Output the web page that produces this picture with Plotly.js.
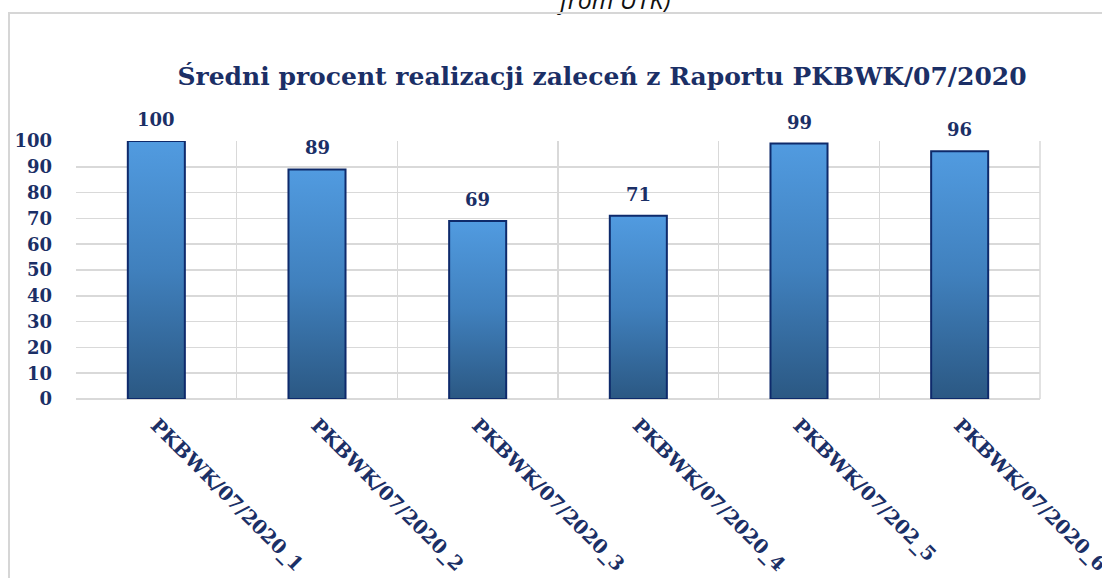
<!DOCTYPE html>
<html><head><meta charset="utf-8">
<script src="https://cdn.plot.ly/plotly-3.0.1.min.js"></script>
<style>html,body{margin:0;padding:0;background:#fff;overflow:hidden}
#frame{position:absolute;left:8px;top:12px;width:1200px;height:700px;border-left:2px solid #d6d6d6;border-top:2px solid #d6d6d6;pointer-events:none}
</style></head>
<body>
<div id="chart" style="width:1102px;height:578px;"></div>
<div id="frame"></div>
<script>
const categories = ["PKBWK/07/2020_1","PKBWK/07/2020_2","PKBWK/07/2020_3","PKBWK/07/2020_4","PKBWK/07/202_5","PKBWK/07/2020_6"];
const values = [100, 89, 69, 71, 99, 96];
const yTicks = [0,10,20,30,40,50,60,70,80,90,100];
const titleText = "Średni procent realizacji zaleceń z Raportu PKBWK/07/2020";
const topText = "from UTK)";

const navy = "#1b2f66";
const serif = "DejaVu Serif, Liberation Serif, serif";

const trace = {
  type: "bar",
  x: categories,
  y: values,
  width: 0.355,
  marker: {color: "#4283c2", line: {color: "#0e2a6b", width: 2}},
  hoverinfo: "none"
};

const valueLabels = categories.map(function(c, i){
  return {x: c, y: values[i], xref: "x", yref: "y", text: "<b>" + values[i] + "</b>", showarrow: false,
          yanchor: "bottom", yshift: 9, font: {family: serif, size: 18, color: navy}};
});

const layout = {
  width: 1102, height: 578,
  margin: {l: 76, r: 62, t: 141, b: 179},
  paper_bgcolor: "#fff", plot_bgcolor: "#fff",
  showlegend: false,
  title: {text: "<b>" + titleText + "</b>", font: {family: serif, size: 25, color: navy},
          x: 0.5463, xanchor: "center", y: 0.868, yanchor: "middle"},
  xaxis: {
    type: "category", tickson: "boundaries", showgrid: true, gridcolor: "#d9d9d9", gridwidth: 1.5,
    tickangle: 45, ticks: "", ticklabelstandoff: 10,
    tickfont: {family: serif, size: 19.5, color: navy, weight: "bold"},
    showline: false, zeroline: false
  },
  yaxis: {
    range: [0, 100], tickvals: yTicks, ticktext: yTicks.map(String), showgrid: true, gridcolor: "#d9d9d9", gridwidth: 1.5,
    tickfont: {family: serif, size: 18, color: navy, weight: "bold"}, ticklabelstandoff: 23,
    zeroline: true, zerolinecolor: "#d9d9d9", zerolinewidth: 1.5, showline: false
  },
  shapes: [
    {type: "line", xref: "paper", yref: "paper", x0: 1, x1: 1, y0: 0, y1: 1, line: {color: "#d9d9d9", width: 1.5}}
  ],
  annotations: valueLabels.concat([
    {text: "<i>" + topText + "</i>", xref: "paper", yref: "paper", x: 0.558, y: 1.550, xanchor: "center", yanchor: "middle",
     showarrow: false, font: {family: "Open Sans, sans-serif", size: 25, color: "#111"}}
  ])
};

Plotly.newPlot("chart", [trace], layout, {displayModeBar: false, staticPlot: true}).then(function(gd){
  const svg = gd.querySelector("svg.main-svg");
  const ns = "http://www.w3.org/2000/svg";
  let defs = svg.querySelector("defs");
  if (!defs) { defs = document.createElementNS(ns, "defs"); svg.insertBefore(defs, svg.firstChild); }
  const g = document.createElementNS(ns, "linearGradient");
  g.setAttribute("id", "barGrad");
  g.setAttribute("x1", "0"); g.setAttribute("y1", "0"); g.setAttribute("x2", "0"); g.setAttribute("y2", "1");
  [["0", "#519be0"], ["0.5", "#4080bd"], ["1", "#2b5883"]].forEach(function(s){
    const st = document.createElementNS(ns, "stop");
    st.setAttribute("offset", s[0]); st.setAttribute("stop-color", s[1]);
    g.appendChild(st);
  });
  defs.appendChild(g);
  gd.querySelectorAll(".trace.bars .point path").forEach(function(p){ p.style.fill = "url(#barGrad)"; });
});
</script>
</body></html>
